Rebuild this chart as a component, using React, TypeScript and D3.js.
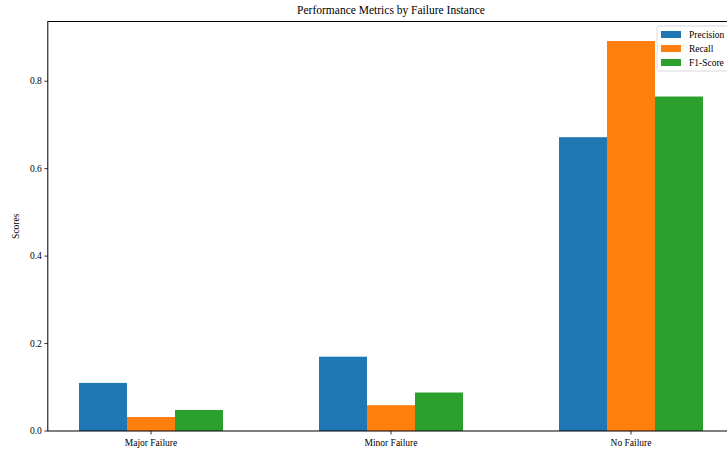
import React, { useEffect, useRef } from 'react';
import * as d3 from 'd3';

// chart data
const categories = ['Major Failure', 'Minor Failure', 'No Failure'];
const seriesNames = ['Precision', 'Recall', 'F1-Score'];
const precision = [0.11, 0.17, 0.672];
const recall = [0.032, 0.059, 0.892];
const f1Score = [0.048, 0.088, 0.765];
const yTicks = [0.0, 0.2, 0.4, 0.6, 0.8];

const colors = ['#1f77b4', '#ff7f0e', '#2ca02c'];

const W = 727;
const H = 454;
const margin = { left: 47.8, top: 21.5, bottom: 23 };
const barWidth = 0.2;

export default function App() {
  const svgRef = useRef<SVGSVGElement | null>(null);

  useEffect(() => {
    const svg = d3.select(svgRef.current);
    svg.selectAll('*').remove();

    const series = [precision, recall, f1Score];

    // matplotlib style autoscale: data extent -0.3..2.3 with 5% margins
    const x = d3.scaleLinear().domain([-0.43, 2.43]).range([margin.left, margin.left + 2.86 * 240]);
    const yMax = d3.max(series.flat())! * 1.05;
    const y = d3.scaleLinear().domain([0, yMax]).range([H - margin.bottom, margin.top]);

    // bars
    series.forEach((vals, si) => {
      svg.append('g')
        .selectAll('rect')
        .data(vals)
        .join('rect')
        .attr('x', (d, i) => x(i + (si - 1) * barWidth - barWidth / 2))
        .attr('width', x(barWidth) - x(0))
        .attr('y', d => y(d))
        .attr('height', d => y(0) - y(d))
        .attr('fill', colors[si]);
    });

    // spines
    const x0 = x.range()[0];
    const x1 = x.range()[1];
    const y0 = y(0);
    const y1 = y(yMax);
    svg.append('rect')
      .attr('x', x0).attr('y', y1)
      .attr('width', x1 - x0).attr('height', y0 - y1)
      .attr('fill', 'none').attr('stroke', '#000').attr('stroke-width', 1);

    // y ticks
    const yt = svg.append('g');
    yTicks.forEach(t => {
      yt.append('line')
        .attr('x1', x0 - 3.5).attr('x2', x0)
        .attr('y1', y(t)).attr('y2', y(t))
        .attr('stroke', '#000').attr('stroke-width', 0.8);
      yt.append('text')
        .attr('x', x0 - 6).attr('y', y(t))
        .attr('dy', '0.32em')
        .attr('text-anchor', 'end')
        .attr('font-size', 9.5)
        .text(t.toFixed(1));
    });

    // x ticks
    const xt = svg.append('g');
    categories.forEach((c, i) => {
      xt.append('line')
        .attr('x1', x(i)).attr('x2', x(i))
        .attr('y1', y0).attr('y2', y0 + 3.5)
        .attr('stroke', '#000').attr('stroke-width', 0.8);
      xt.append('text')
        .attr('x', x(i)).attr('y', y0 + 15)
        .attr('text-anchor', 'middle')
        .attr('font-size', 9.5)
        .text(c);
    });

    // title + y label
    svg.append('text')
      .attr('x', (x0 + x1) / 2).attr('y', 14)
      .attr('text-anchor', 'middle')
      .attr('font-size', 11.5)
      .text('Performance Metrics by Failure Instance');

    svg.append('text')
      .attr('transform', `translate(19,${(y0 + y1) / 2}) rotate(-90)`)
      .attr('text-anchor', 'middle')
      .attr('font-size', 9.5)
      .text('Scores');

    // legend
    const lg = svg.append('g').attr('transform', 'translate(657,26)');
    lg.append('rect')
      .attr('width', 73).attr('height', 45)
      .attr('rx', 2)
      .attr('fill', 'rgba(255,255,255,0.8)')
      .attr('stroke', '#d0d0d0').attr('stroke-width', 0.8);
    seriesNames.forEach((n, i) => {
      lg.append('rect')
        .attr('x', 4).attr('y', 5 + i * 14)
        .attr('width', 20).attr('height', 7)
        .attr('fill', colors[i]);
      lg.append('text')
        .attr('x', 32).attr('y', 8.5 + i * 14)
        .attr('dy', '0.32em')
        .attr('font-size', 9.5)
        .text(n);
    });
  }, []);

  return (
    <div style={{ position: 'absolute', left: 0, top: 0 }}>
      <svg
        ref={svgRef}
        width={W}
        height={H}
        style={{ display: 'block', background: '#fff', fontFamily: "'Liberation Serif', 'Times New Roman', serif" }}
      />
    </div>
  );
}
